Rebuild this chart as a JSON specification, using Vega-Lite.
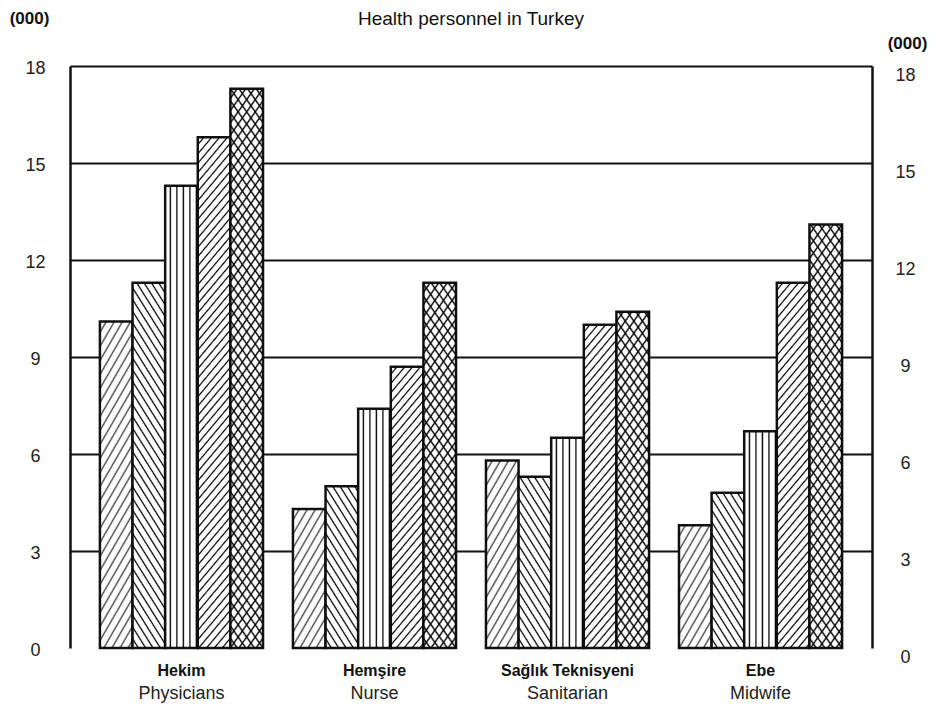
{
  "$schema": "https://vega.github.io/schema/vega-lite/v6.json",
  "width": 802,
  "height": 582,
  "autosize": {"type": "none"},
  "padding": {"left": 70, "top": 66, "right": 73, "bottom": 69},
  "background": "white",
  "config": {"font": "Liberation Sans", "view": {"stroke": null}},
  "title": {"text": "Health personnel in Turkey", "font": "Liberation Sans", "fontSize": 19, "fontWeight": "normal", "color": "#111", "anchor": "middle", "frame": "group", "baseline": "middle", "offset": -29},
  "params": [
    {"name": "hs", "value": [
      {"offset":0,"color":"#0000"},{"offset":0.01,"color":"#0000"},{"offset":0.0133,"color":"#000"},
      {"offset":0.0167,"color":"#0000"},{"offset":0.0267,"color":"#0000"},{"offset":0.03,"color":"#000"},
      {"offset":0.0333,"color":"#0000"},{"offset":0.0433,"color":"#0000"},{"offset":0.0467,"color":"#000"},
      {"offset":0.05,"color":"#0000"},{"offset":0.06,"color":"#0000"},{"offset":0.0633,"color":"#000"},
      {"offset":0.0667,"color":"#0000"},{"offset":0.0767,"color":"#0000"},{"offset":0.08,"color":"#000"},
      {"offset":0.0833,"color":"#0000"},{"offset":0.0933,"color":"#0000"},{"offset":0.0967,"color":"#000"},
      {"offset":0.1,"color":"#0000"},{"offset":0.11,"color":"#0000"},{"offset":0.1133,"color":"#000"},
      {"offset":0.1167,"color":"#0000"},{"offset":0.1267,"color":"#0000"},{"offset":0.13,"color":"#000"},
      {"offset":0.1333,"color":"#0000"},{"offset":0.1433,"color":"#0000"},{"offset":0.1467,"color":"#000"},
      {"offset":0.15,"color":"#0000"},{"offset":0.16,"color":"#0000"},{"offset":0.1633,"color":"#000"},
      {"offset":0.1667,"color":"#0000"},{"offset":0.1767,"color":"#0000"},{"offset":0.18,"color":"#000"},
      {"offset":0.1833,"color":"#0000"},{"offset":0.1933,"color":"#0000"},{"offset":0.1967,"color":"#000"},
      {"offset":0.2,"color":"#0000"},{"offset":0.21,"color":"#0000"},{"offset":0.2133,"color":"#000"},
      {"offset":0.2167,"color":"#0000"},{"offset":0.2267,"color":"#0000"},{"offset":0.23,"color":"#000"},
      {"offset":0.2333,"color":"#0000"},{"offset":0.2433,"color":"#0000"},{"offset":0.2467,"color":"#000"},
      {"offset":0.25,"color":"#0000"},{"offset":0.26,"color":"#0000"},{"offset":0.2633,"color":"#000"},
      {"offset":0.2667,"color":"#0000"},{"offset":0.2767,"color":"#0000"},{"offset":0.28,"color":"#000"},
      {"offset":0.2833,"color":"#0000"},{"offset":0.2933,"color":"#0000"},{"offset":0.2967,"color":"#000"},
      {"offset":0.3,"color":"#0000"},{"offset":0.31,"color":"#0000"},{"offset":0.3133,"color":"#000"},
      {"offset":0.3167,"color":"#0000"},{"offset":0.3267,"color":"#0000"},{"offset":0.33,"color":"#000"},
      {"offset":0.3333,"color":"#0000"},{"offset":0.3433,"color":"#0000"},{"offset":0.3467,"color":"#000"},
      {"offset":0.35,"color":"#0000"},{"offset":0.36,"color":"#0000"},{"offset":0.3633,"color":"#000"},
      {"offset":0.3667,"color":"#0000"},{"offset":0.3767,"color":"#0000"},{"offset":0.38,"color":"#000"},
      {"offset":0.3833,"color":"#0000"},{"offset":0.3933,"color":"#0000"},{"offset":0.3967,"color":"#000"},
      {"offset":0.4,"color":"#0000"},{"offset":0.41,"color":"#0000"},{"offset":0.4133,"color":"#000"},
      {"offset":0.4167,"color":"#0000"},{"offset":0.4267,"color":"#0000"},{"offset":0.43,"color":"#000"},
      {"offset":0.4333,"color":"#0000"},{"offset":0.4433,"color":"#0000"},{"offset":0.4467,"color":"#000"},
      {"offset":0.45,"color":"#0000"},{"offset":0.46,"color":"#0000"},{"offset":0.4633,"color":"#000"},
      {"offset":0.4667,"color":"#0000"},{"offset":0.4767,"color":"#0000"},{"offset":0.48,"color":"#000"},
      {"offset":0.4833,"color":"#0000"},{"offset":0.4933,"color":"#0000"},{"offset":0.4967,"color":"#000"},
      {"offset":0.5,"color":"#0000"},{"offset":0.51,"color":"#0000"},{"offset":0.5133,"color":"#000"},
      {"offset":0.5167,"color":"#0000"},{"offset":0.5267,"color":"#0000"},{"offset":0.53,"color":"#000"},
      {"offset":0.5333,"color":"#0000"},{"offset":0.5433,"color":"#0000"},{"offset":0.5467,"color":"#000"},
      {"offset":0.55,"color":"#0000"},{"offset":0.56,"color":"#0000"},{"offset":0.5633,"color":"#000"},
      {"offset":0.5667,"color":"#0000"},{"offset":0.5767,"color":"#0000"},{"offset":0.58,"color":"#000"},
      {"offset":0.5833,"color":"#0000"},{"offset":0.5933,"color":"#0000"},{"offset":0.5967,"color":"#000"},
      {"offset":0.6,"color":"#0000"},{"offset":0.61,"color":"#0000"},{"offset":0.6133,"color":"#000"},
      {"offset":0.6167,"color":"#0000"},{"offset":0.6267,"color":"#0000"},{"offset":0.63,"color":"#000"},
      {"offset":0.6333,"color":"#0000"},{"offset":0.6433,"color":"#0000"},{"offset":0.6467,"color":"#000"},
      {"offset":0.65,"color":"#0000"},{"offset":0.66,"color":"#0000"},{"offset":0.6633,"color":"#000"},
      {"offset":0.6667,"color":"#0000"},{"offset":0.6767,"color":"#0000"},{"offset":0.68,"color":"#000"},
      {"offset":0.6833,"color":"#0000"},{"offset":0.6933,"color":"#0000"},{"offset":0.6967,"color":"#000"},
      {"offset":0.7,"color":"#0000"},{"offset":0.71,"color":"#0000"},{"offset":0.7133,"color":"#000"},
      {"offset":0.7167,"color":"#0000"},{"offset":0.7267,"color":"#0000"},{"offset":0.73,"color":"#000"},
      {"offset":0.7333,"color":"#0000"},{"offset":0.7433,"color":"#0000"},{"offset":0.7467,"color":"#000"},
      {"offset":0.75,"color":"#0000"},{"offset":0.76,"color":"#0000"},{"offset":0.7633,"color":"#000"},
      {"offset":0.7667,"color":"#0000"},{"offset":0.7767,"color":"#0000"},{"offset":0.78,"color":"#000"},
      {"offset":0.7833,"color":"#0000"},{"offset":0.7933,"color":"#0000"},{"offset":0.7967,"color":"#000"},
      {"offset":0.8,"color":"#0000"},{"offset":0.81,"color":"#0000"},{"offset":0.8133,"color":"#000"},
      {"offset":0.8167,"color":"#0000"},{"offset":0.8267,"color":"#0000"},{"offset":0.83,"color":"#000"},
      {"offset":0.8333,"color":"#0000"},{"offset":0.8433,"color":"#0000"},{"offset":0.8467,"color":"#000"},
      {"offset":0.85,"color":"#0000"},{"offset":0.86,"color":"#0000"},{"offset":0.8633,"color":"#000"},
      {"offset":0.8667,"color":"#0000"},{"offset":0.8767,"color":"#0000"},{"offset":0.88,"color":"#000"},
      {"offset":0.8833,"color":"#0000"},{"offset":0.8933,"color":"#0000"},{"offset":0.8967,"color":"#000"},
      {"offset":0.9,"color":"#0000"},{"offset":0.91,"color":"#0000"},{"offset":0.9133,"color":"#000"},
      {"offset":0.9167,"color":"#0000"},{"offset":0.9267,"color":"#0000"},{"offset":0.93,"color":"#000"},
      {"offset":0.9333,"color":"#0000"},{"offset":0.9433,"color":"#0000"},{"offset":0.9467,"color":"#000"},
      {"offset":0.95,"color":"#0000"},{"offset":0.96,"color":"#0000"},{"offset":0.9633,"color":"#000"},
      {"offset":0.9667,"color":"#0000"},{"offset":0.9767,"color":"#0000"},{"offset":0.98,"color":"#000"},
      {"offset":0.9833,"color":"#0000"},{"offset":0.9933,"color":"#0000"},{"offset":0.9967,"color":"#000"},
      {"offset":1,"color":"#0000"}
    ]}
  ],
  "data": {"values": [
    {"g": "Hekim|Physicians", "s": "s1", "v": 10.1},
    {"g": "Hekim|Physicians", "s": "s2", "v": 11.3},
    {"g": "Hekim|Physicians", "s": "s3", "v": 14.3},
    {"g": "Hekim|Physicians", "s": "s4", "v": 15.8},
    {"g": "Hekim|Physicians", "s": "s5", "v": 17.3},
    {"g": "Hemşire|Nurse", "s": "s1", "v": 4.3},
    {"g": "Hemşire|Nurse", "s": "s2", "v": 5.0},
    {"g": "Hemşire|Nurse", "s": "s3", "v": 7.4},
    {"g": "Hemşire|Nurse", "s": "s4", "v": 8.7},
    {"g": "Hemşire|Nurse", "s": "s5", "v": 11.3},
    {"g": "Sağlık  Teknisyeni|Sanitarian", "s": "s1", "v": 5.8},
    {"g": "Sağlık  Teknisyeni|Sanitarian", "s": "s2", "v": 5.3},
    {"g": "Sağlık  Teknisyeni|Sanitarian", "s": "s3", "v": 6.5},
    {"g": "Sağlık  Teknisyeni|Sanitarian", "s": "s4", "v": 10.0},
    {"g": "Sağlık  Teknisyeni|Sanitarian", "s": "s5", "v": 10.4},
    {"g": "Ebe|Midwife", "s": "s1", "v": 3.8},
    {"g": "Ebe|Midwife", "s": "s2", "v": 4.8},
    {"g": "Ebe|Midwife", "s": "s3", "v": 6.7},
    {"g": "Ebe|Midwife", "s": "s4", "v": 11.3},
    {"g": "Ebe|Midwife", "s": "s5", "v": 13.1}
  ]},
  "resolve": {"axis": {"x": "independent", "y": "independent"}},
  "layer": [
    {
      "mark": {"type": "bar", "fill": "white", "stroke": "#111", "strokeWidth": 2.5},
      "encoding": {
        "x": {"field": "g", "type": "nominal", "sort": null,
              "scale": {"paddingInner": 0.155, "paddingOuter": 0.155},
              "axis": {"orient": "bottom", "title": null, "domain": false, "ticks": false, "tickSize": 0, "labelAngle": 0,
                       "labelExpr": "split(datum.value,'|')[0]", "labelFontSize": 16, "labelFontWeight": "bold",
                       "labelColor": "#111", "labelPadding": 14, "labelBaseline": "top"}},
        "xOffset": {"field": "s", "type": "nominal", "scale": {"paddingInner": 0, "paddingOuter": 0}},
        "y": {"field": "v", "type": "quantitative", "scale": {"domain": [0, 18], "nice": false},
              "axis": {"orient": "left", "values": [0, 3, 6, 9, 12, 15, 18], "grid": true, "gridColor": "#111", "gridWidth": 2,
                       "gridOpacity": {"condition": {"test": "datum.value === 0", "value": 0}, "value": 1},
                       "domain": true, "domainColor": "#111", "domainWidth": 2.5, "ticks": false, "tickSize": 0,
                       "labelAlign": "center", "labelBaseline": "middle", "labelPadding": 35, "labelOffset": 2,
                       "labelFontSize": 18, "labelColor": "#222",
                       "title": "(000)", "titleAngle": 0, "titleX": -41, "titleY": -48, "titleAlign": "center",
                       "titleBaseline": "middle", "titleFontSize": 17, "titleFontWeight": "bold", "titleColor": "#111"}}
      }
    },
    {
      "mark": {"type": "bar", "strokeWidth": 0,
               "fill": {"expr": "datum.s=='s1' ? {gradient:'linear',x1:0,y1:0,x2:28.2*420/(795+261.3*datum.v*datum.v),y2:16.165*datum.v*420/(795+261.3*datum.v*datum.v),stops:hs} : datum.s=='s2' ? {gradient:'linear',x1:0,y1:1,x2:27.6*372/(762+293.7*datum.v*datum.v),y2:1-17.135*datum.v*372/(762+293.7*datum.v*datum.v),stops:hs} : datum.s=='s3' ? {gradient:'linear',x1:0,y1:0,x2:11.96,y2:0,stops:hs} : datum.s=='s4' ? {gradient:'linear',x1:0,y1:0,x2:25*360/(625+431.7*datum.v*datum.v),y2:20.788*datum.v*360/(625+431.7*datum.v*datum.v),stops:hs} : {gradient:'linear',x1:0,y1:0,x2:26.7*420/(713+343.9*datum.v*datum.v),y2:18.557*datum.v*420/(713+343.9*datum.v*datum.v),stops:hs}"},
               "fillOpacity": {"expr": "datum.s=='s1' ? 0.7 : 1"}},
      "encoding": {
        "x": {"field": "g", "type": "nominal", "sort": null,
              "axis": {"orient": "bottom", "title": null, "domain": false, "ticks": false, "tickSize": 0, "labelAngle": 0,
                       "labelExpr": "split(datum.value,'|')[1]", "labelFontSize": 18, "labelFontWeight": "normal",
                       "labelColor": "#222", "labelPadding": 36, "labelBaseline": "top"}},
        "xOffset": {"field": "s", "type": "nominal"},
        "y": {"field": "v", "type": "quantitative",
              "axis": {"orient": "right", "values": [0, 3, 6, 9, 12, 15, 18], "grid": false,
                       "domain": true, "domainColor": "#111", "domainWidth": 2.5, "ticks": false, "tickSize": 0,
                       "labelAlign": "center", "labelBaseline": "middle", "labelPadding": 33, "labelOffset": 9,
                       "labelFontSize": 18, "labelColor": "#222",
                       "title": "(000)", "titleAngle": 0, "titleX": 35, "titleY": -23, "titleAlign": "center",
                       "titleBaseline": "middle", "titleFontSize": 17, "titleFontWeight": "bold", "titleColor": "#111"}}
      }
    },
    {
      "transform": [{"filter": "datum.s == 's5'"}],
      "mark": {"type": "bar", "strokeWidth": 0,
               "fill": {"expr": "{gradient:'linear',x1:0,y1:1,x2:26.7*420/(713+343.9*datum.v*datum.v),y2:1-18.557*datum.v*420/(713+343.9*datum.v*datum.v),stops:hs}"}},
      "encoding": {
        "x": {"field": "g", "type": "nominal", "sort": null, "axis": null},
        "xOffset": {"field": "s", "type": "nominal"},
        "y": {"field": "v", "type": "quantitative", "axis": null}
      }
    }
  ]
}
